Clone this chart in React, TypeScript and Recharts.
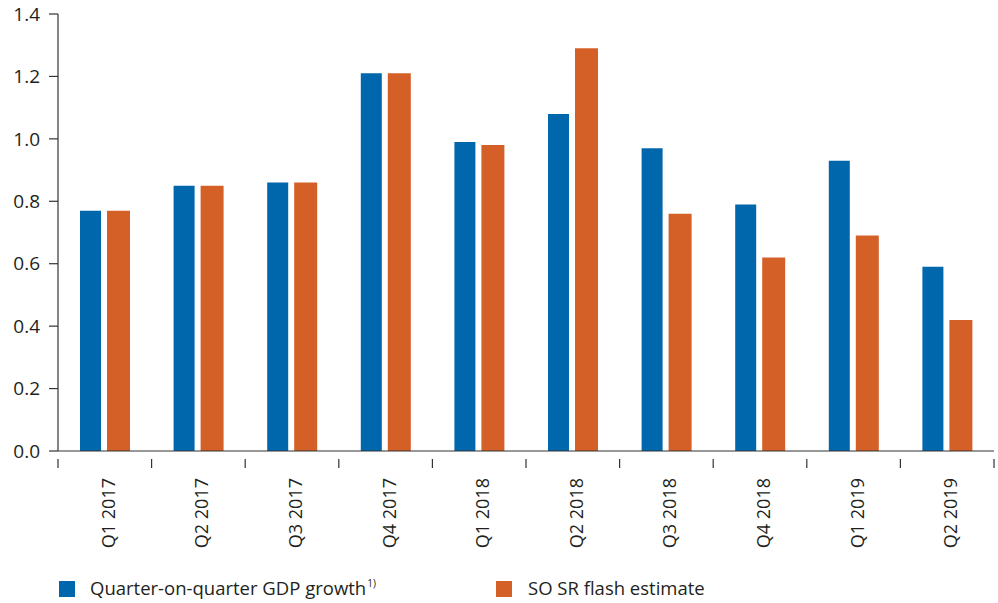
import React from 'react';
import { BarChart, Bar, XAxis, YAxis } from 'recharts';

const categories = ['Q1 2017','Q2 2017','Q3 2017','Q4 2017','Q1 2018','Q2 2018','Q3 2018','Q4 2018','Q1 2019','Q2 2019'];
const gdpGrowth = [0.77, 0.85, 0.86, 1.21, 0.99, 1.08, 0.97, 0.79, 0.93, 0.59];
const flashEstimate = [0.77, 0.85, 0.86, 1.21, 0.98, 1.29, 0.76, 0.62, 0.69, 0.42];
const yTicks = [0, 0.2, 0.4, 0.6, 0.8, 1.0, 1.2, 1.4];
const seriesNames = ['Quarter-on-quarter GDP growth', 'SO SR flash estimate'];

const BLUE = '#0067AC';
const ORANGE = '#D46027';
const TEXT = '#231F20';
const FONT = '"Open Sans", "Noto Sans", sans-serif';

const data = categories.map((c, i) => ({ name: c, gdp: gdpGrowth[i], flash: flashEstimate[i] }));

const W = 998;
const H = 603;
const M = { top: 14, right: 4, left: 0, bottom: 52 };
const Y_W = 58;
const BAND = (W - M.left - M.right - Y_W) / categories.length;

const XTick = (props: any) => {
  const { x, y, payload, index } = props;
  const left = x - BAND / 2;
  return (
    <g>
      <line x1={left} y1={y} x2={left} y2={y + 9} stroke="#333" strokeWidth={1.2} />
      {index === categories.length - 1 && (
        <line x1={left + BAND} y1={y} x2={left + BAND} y2={y + 9} stroke="#333" strokeWidth={1.2} />
      )}
      <text
        transform={`translate(${x},${y + 19}) rotate(-90)`}
        textAnchor="end"
        dy="0.55em"
        fontSize={18}
        fill={TEXT}
        fontFamily={FONT}
      >
        {payload.value}
      </text>
    </g>
  );
};

const legendText: React.CSSProperties = {
  position: 'absolute',
  top: 577,
  fontSize: 18.5,
  color: TEXT,
  lineHeight: '22px',
  height: 22,
  whiteSpace: 'nowrap',
};

export default function App() {
  return (
    <div style={{ position: 'absolute', left: 0, top: 0, width: W, height: H, background: '#fff', fontFamily: FONT, overflow: 'hidden' }}>
      <BarChart width={W} height={H} data={data} margin={M} barGap={6}>
        <YAxis
          width={Y_W}
          domain={[0, 1.4]}
          ticks={yTicks}
          tickFormatter={(v: number) => v.toFixed(1)}
          axisLine={{ stroke: '#333', strokeWidth: 1.2 }}
          tickLine={{ stroke: '#333', strokeWidth: 1.2 }}
          tickSize={9}
          tickMargin={9}
          tick={{ fontSize: 19, fill: TEXT, fontFamily: FONT }}
          interval={0}
        />
        <XAxis
          dataKey="name"
          height={100}
          interval={0}
          axisLine={{ stroke: '#333', strokeWidth: 1.2 }}
          tickLine={false}
          tick={<XTick />}
        />
        <Bar dataKey="gdp" name={seriesNames[0]} fill={BLUE} barSize={21} isAnimationActive={false} />
        <Bar dataKey="flash" name={seriesNames[1]} fill={ORANGE} barSize={23} isAnimationActive={false} />
      </BarChart>
      <div style={{ position: 'absolute', left: 59, top: 581, width: 16, height: 16, background: BLUE }} />
      <div style={{ ...legendText, left: 90 }}>
        {seriesNames[0]}
        <span style={{ fontSize: 10, position: 'relative', top: -8, marginLeft: 1 }}>1)</span>
      </div>
      <div style={{ position: 'absolute', left: 496, top: 581, width: 16, height: 16, background: ORANGE }} />
      <div style={{ ...legendText, left: 528 }}>
        {seriesNames[1]}
      </div>
    </div>
  );
}
